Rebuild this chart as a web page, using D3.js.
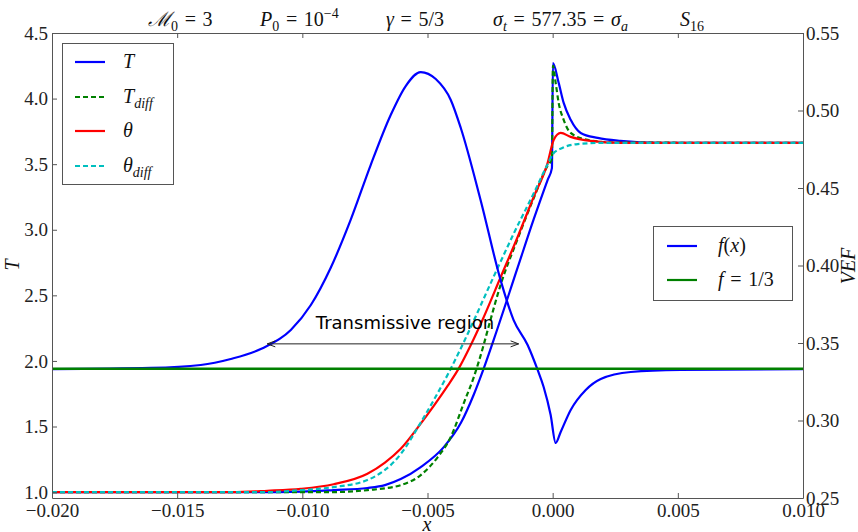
<!DOCTYPE html>
<html><head><meta charset="utf-8">
<script src="https://cdn.jsdelivr.net/npm/d3@7"></script>
<style>
body{margin:0;background:#fff;}
svg text{font-family:"Liberation Serif","DejaVu Serif",serif;}
</style></head>
<body><svg id="c" width="858" height="532"></svg>
<script>
// ---- data ----
const tX        = [-0.020,-0.012,-0.010,-0.00875,-0.0074,-0.0067,-0.00607,-0.00527,-0.00435,-0.00367,-0.00315,-0.00276,-0.00236,-0.0014,-0.00076,-0.0002,-0.00003,0.00001,0.00024,0.00044,0.00072,0.00112,0.0018,0.0027,0.0043,0.010];
const tVals     = [1.0,1.0,1.004,1.015,1.031,1.053,1.099,1.191,1.343,1.526,1.744,1.939,2.159,2.711,3.079,3.381,3.47,4.27,4.12,3.967,3.838,3.738,3.70,3.677,3.662,3.662];
const tDiffX    = [-0.020,-0.0088,-0.0074,-0.00607,-0.00527,-0.00459,-0.00407,-0.00355,-0.00315,-0.00276,-0.00256,-0.00208,-0.0014,-0.00076,-0.0002,-0.00003,0.00001,0.00012,0.00024,0.00044,0.00072,0.0014,0.0025,0.010];
const tDiffVals = [1.0,1.0,1.015,1.053,1.13,1.267,1.42,1.679,1.877,2.12,2.26,2.58,2.93,3.24,3.49,3.54,4.25,4.12,3.967,3.838,3.738,3.685,3.665,3.662];
const thX       = [-0.020,-0.0128,-0.0114,-0.01006,-0.00875,-0.0074,-0.0067,-0.00607,-0.00527,-0.00475,-0.00419,-0.00375,-0.00327,-0.0028,-0.00208,-0.0014,-0.00076,-0.0002,0.00004,0.00032,0.00072,0.00152,0.0027,0.010];
const thVals    = [1.0,1.0,1.01,1.025,1.06,1.14,1.225,1.33,1.522,1.657,1.811,1.943,2.121,2.314,2.638,2.945,3.25,3.51,3.685,3.738,3.708,3.677,3.662,3.662];
const thDiffX   = [-0.020,-0.0114,-0.01006,-0.00875,-0.0074,-0.00607,-0.00527,-0.00471,-0.00415,-0.00343,-0.00236,-0.00156,-0.00076,-0.0002,0.0,0.0004,0.001,0.002,0.010];
const thDiffVals= [1.0,1.0,1.015,1.038,1.092,1.29,1.53,1.715,1.911,2.192,2.641,2.969,3.277,3.50,3.575,3.625,3.653,3.662,3.662];
const vefX      = [-0.020,-0.01605,-0.01406,-0.01286,-0.01166,-0.01046,-0.00966,-0.00887,-0.00807,-0.00727,-0.00647,-0.00587,-0.00527,-0.00467,-0.00407,-0.00367,-0.00288,-0.00208,-0.00156,-0.00100,-0.00060,-0.00036,-0.00008,0.00012,0.00032,0.00072,0.00132,0.00192,0.00312,0.00511,0.010];
const vefVals   = [0.3332,0.3339,0.3358,0.3397,0.3461,0.3584,0.3745,0.3984,0.4294,0.4648,0.4971,0.5158,0.5248,0.5203,0.5068,0.4887,0.4423,0.3906,0.3648,0.3487,0.3326,0.3216,0.3035,0.2855,0.2926,0.3068,0.3197,0.3268,0.3313,0.3326,0.3332];
const fThird    = 1/3;
const xTicks    = [-0.020,-0.015,-0.010,-0.005,0.000,0.005,0.010];
const yLTicks   = [1.0,1.5,2.0,2.5,3.0,3.5,4.0,4.5];
const yRTicks   = [0.25,0.30,0.35,0.40,0.45,0.50,0.55];
const arrowSpan = [-0.0114,-0.00136];
const arrowLevel= 2.13;
const annotX    = -0.0059;
const annotText = "Transmissive region";

// ---- layout ----
const L=52,R=803,T=33,B=498;
const svg=d3.select("#c");
const x=d3.scaleLinear([-0.02,0.01],[L,R]);
const yL=d3.scaleLinear([0.955,4.5],[B,T]);
const yR=d3.scaleLinear([0.25,0.55],[B,T]);

const defs=svg.append("defs");
defs.append("clipPath").attr("id","pc").append("rect").attr("x",L).attr("y",T).attr("width",R-L).attr("height",B-T);
defs.append("marker").attr("id","ah").attr("viewBox","-10 -5 12 10").attr("refX",0).attr("refY",0)
  .attr("markerWidth",12).attr("markerHeight",10).attr("markerUnits","userSpaceOnUse").attr("orient","auto-start-reverse")
  .append("path").attr("d","M-8,-3L0,0L-8,3").attr("fill","none").attr("stroke","#222").attr("stroke-width",1);

const g=svg.append("g").attr("clip-path","url(#pc)");
const lineL=(xs,vs)=>d3.line().curve(d3.curveMonotoneX).x((d,i)=>x(xs[i])).y(d=>yL(d))(vs);
const lineR=(xs,vs)=>d3.line().curve(d3.curveMonotoneX).x((d,i)=>x(xs[i])).y(d=>yR(d))(vs);

const series=[
 {xs:tX,vs:tVals,c:"#0000ff",dash:null},
 {xs:tDiffX,vs:tDiffVals,c:"#008000",dash:"5,3"},
 {xs:thX,vs:thVals,c:"#ff0000",dash:null},
 {xs:thDiffX,vs:thDiffVals,c:"#00bfbf",dash:"5,3"},
];
series.forEach(s=>{
  g.append("path").attr("d",lineL(s.xs,s.vs)).attr("fill","none").attr("stroke",s.c)
   .attr("stroke-width",2.2).attr("stroke-dasharray",s.dash).attr("stroke-linejoin","round");
});
g.append("path").attr("d",lineR(vefX,vefVals)).attr("fill","none").attr("stroke","#0000ff").attr("stroke-width",2.2);
g.append("line").attr("x1",L).attr("x2",R).attr("y1",yR(fThird)).attr("y2",yR(fThird)).attr("stroke","#008000").attr("stroke-width",2.5);

// annotation
svg.append("line").attr("x1",x(arrowSpan[0])).attr("x2",x(arrowSpan[1])).attr("y1",yL(arrowLevel)).attr("y2",yL(arrowLevel))
  .attr("stroke","#222").attr("stroke-width",1).attr("marker-start","url(#ah)").attr("marker-end","url(#ah)");
svg.append("text").attr("x",x(annotX)).attr("y",yL(arrowLevel)-15).attr("text-anchor","middle")
  .style("font-family","'DejaVu Sans',sans-serif").style("font-size","18px").attr("fill","#000").text(annotText);

// axes
const fmtX=d3.format(".3f"), fmtL=d3.format(".1f"), fmtR=d3.format(".2f");
function styleAxis(sel){
  sel.select(".domain").attr("stroke","#555").attr("stroke-width",1);
  sel.selectAll(".tick line").attr("stroke","#555");
  sel.selectAll(".tick text").style("font-size","19px").style("font-family","'Liberation Serif',serif").attr("fill","#222");
}
svg.append("g").attr("transform",`translate(0,${B})`).call(d3.axisBottom(x).tickValues(xTicks).tickFormat(fmtX).tickSizeInner(-5).tickSizeOuter(0).tickPadding(6)).call(styleAxis);
svg.append("g").attr("transform",`translate(0,${T})`).call(d3.axisTop(x).tickValues(xTicks).tickFormat("").tickSizeInner(-5).tickSizeOuter(0)).call(styleAxis);
svg.append("g").attr("transform",`translate(${L},0)`).call(d3.axisLeft(yL).tickValues(yLTicks).tickFormat(fmtL).tickSizeInner(-5).tickSizeOuter(0).tickPadding(4)).call(styleAxis);
svg.append("g").attr("transform",`translate(${R},0)`).call(d3.axisRight(yR).tickValues(yRTicks).tickFormat(fmtR).tickSizeInner(-5).tickSizeOuter(0).tickPadding(3)).call(styleAxis);

// math text helper
function mtext(parent, x0, y0, parts, size, anchor){
  const t=parent.append("text").attr("x",x0).attr("y",y0).style("font-size",size+"px").attr("fill","#111");
  if(anchor) t.attr("text-anchor",anchor);
  let shift=0;
  parts.forEach(p=>{
    const [s,st]=p;
    const sp=t.append("tspan").text(s);
    let target=0, fs=size;
    if(st&&st.includes("sub")){target=Math.round(size*0.25); fs=Math.round(size*0.7);}
    if(st&&st.includes("sup")){target=-Math.round(size*0.42); fs=Math.round(size*0.7);}
    sp.attr("dy",target-shift).style("font-size",fs+"px");
    shift=target;
    if(st&&st.includes("i")) sp.style("font-style","italic");
  });
  return t;
}

// title
const titleY=26, eq="\u2004=\u2004";
mtext(svg,148,titleY,[["ℳ","i"],["0","sub"],[eq+"3",""]],20);
mtext(svg,260,titleY,[["P","i"],["0","sub"],[eq+"10",""],["−4","sup"]],20);
mtext(svg,386,titleY,[["γ","i"],[eq+"5/3",""]],20);
mtext(svg,493,titleY,[["σ","i"],["t","sub i"],[eq+"577.35"+eq,""],["σ","i"],["a","sub i"]],20);
mtext(svg,680,titleY,[["S","i"],["16","sub"]],20);

// axis labels
mtext(svg,427,531,[["x","i"]],20,"middle");
mtext(svg,0,0,[["T","i"]],20,"middle").attr("transform","translate(19,265) rotate(-90)");
mtext(svg,0,0,[["VEF","i"]],20,"middle").attr("transform","translate(855,266) rotate(-90)");

// legend 1
const leg1=[
 {c:"#0000ff",dash:null,parts:[["T","i"]]},
 {c:"#008000",dash:"5,3",parts:[["T","i"],["diff","sub i"]]},
 {c:"#ff0000",dash:null,parts:[["θ","i"]]},
 {c:"#00bfbf",dash:"5,3",parts:[["θ","i"],["diff","sub i"]]},
];
svg.append("rect").attr("x",62.5).attr("y",43.5).attr("width",111).attr("height",141).attr("fill","#fff").attr("stroke","#555");
const leg1Y=[62,97,131,166];
leg1.forEach((d,i)=>{
  svg.append("line").attr("x1",75).attr("x2",105).attr("y1",leg1Y[i]).attr("y2",leg1Y[i]).attr("stroke",d.c).attr("stroke-width",2.2).attr("stroke-dasharray",d.dash);
  mtext(svg,123,leg1Y[i]+6,d.parts,20);
});
// legend 2
const leg2=[
 {c:"#0000ff",parts:[["f","i"],["(",""],["x","i"],[")",""]]},
 {c:"#008000",parts:[["f","i"],[eq+"1/3",""]]},
];
svg.append("rect").attr("x",653.5).attr("y",226.5).attr("width",139).attr("height",74).attr("fill","#fff").attr("stroke","#555");
const leg2Y=[246,280];
leg2.forEach((d,i)=>{
  svg.append("line").attr("x1",667).attr("x2",697).attr("y1",leg2Y[i]).attr("y2",leg2Y[i]).attr("stroke",d.c).attr("stroke-width",2.2);
  mtext(svg,718,leg2Y[i]+6,d.parts,20);
});
</script></body></html>
